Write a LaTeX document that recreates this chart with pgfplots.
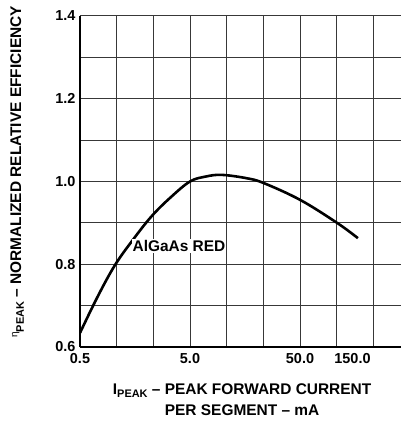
\documentclass[border=0pt]{standalone}
\usepackage{fontspec}
\setmainfont{Liberation Sans}
\usepackage{pgfplots}
\pgfplotsset{compat=1.18}

\begin{document}
\begin{tikzpicture}
\begin{axis}[
    name=ax,
    xmode=log,
    scale only axis,
    width=321bp, height=331bp,
    xmin=0.5, xmax=414,
    ymin=0.6, ymax=1.4,
    axis lines=left,
    axis line style={-, line width=1.3bp, black},
    xtick={0.5,5,50,150}, xticklabels={0.5,5.0,50.0,150.0},
    ytick={0.6,0.8,1.0,1.2,1.4}, yticklabels={0.6,0.8,1.0,1.2,1.4},
    minor xtick={1.077,2.321,5,10.77,23.21,50,107.7,232.1},
    minor ytick={0.7,0.9,1.1,1.3},
    major tick length=0, minor tick length=0,
    xmajorgrids=false, xminorgrids=true,
    ymajorgrids=true, yminorgrids=true,
    grid style={line width=1bp, black!78},
    minor grid style={line width=1bp, black!78},
    /pgf/number format/assume math mode=true,
    tick label style={font=\bfseries\fontsize{14.5}{14.5}\selectfont},
    xticklabel style={yshift=-3bp},
    yticklabel style={xshift=-1bp},
    xlabel={I\raisebox{-0.35ex}{\fontsize{11}{11}\selectfont PEAK} – PEAK FORWARD CURRENT\\PER SEGMENT – mA},
    xlabel style={at={(axis description cs:0.505,0)}, anchor=north, yshift=-37bp,
        inner sep=0pt, align=center, font=\bfseries\fontsize{15.5}{21}\selectfont},
    ylabel={\raisebox{0.45ex}{\fontsize{10}{10}\selectfont\mdseries η}\raisebox{-0.35ex}{\fontsize{11}{11}\selectfont PEAK} – NORMALIZED RELATIVE EFFICIENCY},
    ylabel style={at={(axis description cs:-0.196,0.529)}, anchor=center,
        inner sep=0pt, font=\bfseries\fontsize{15.5}{15.5}\selectfont},
]
\addplot[black, line width=2.6bp, smooth, tension=0.6] coordinates {
    (0.5,0.634) (0.721,0.721) (1.04,0.798) (1.533,0.861) (2.255,0.917)
    (3.36,0.9625) (5,1.0) (6.98,1.012) (9.7,1.016)
    (16.3,1.008) (23.5,0.996) (50.6,0.955) (110,0.899) (168,0.863)
};
\node[fill=white, inner sep=1bp, font=\bfseries\fontsize{15.5}{15.5}\selectfont]
    at (axis cs:3.97,0.844) {AlGaAs RED};
\end{axis}
\pgfresetboundingbox
\path[use as bounding box] ([xshift=-80bp,yshift=-78bp]ax.south west)
    rectangle ([yshift=16bp]ax.north east);
\end{tikzpicture}
\end{document}
